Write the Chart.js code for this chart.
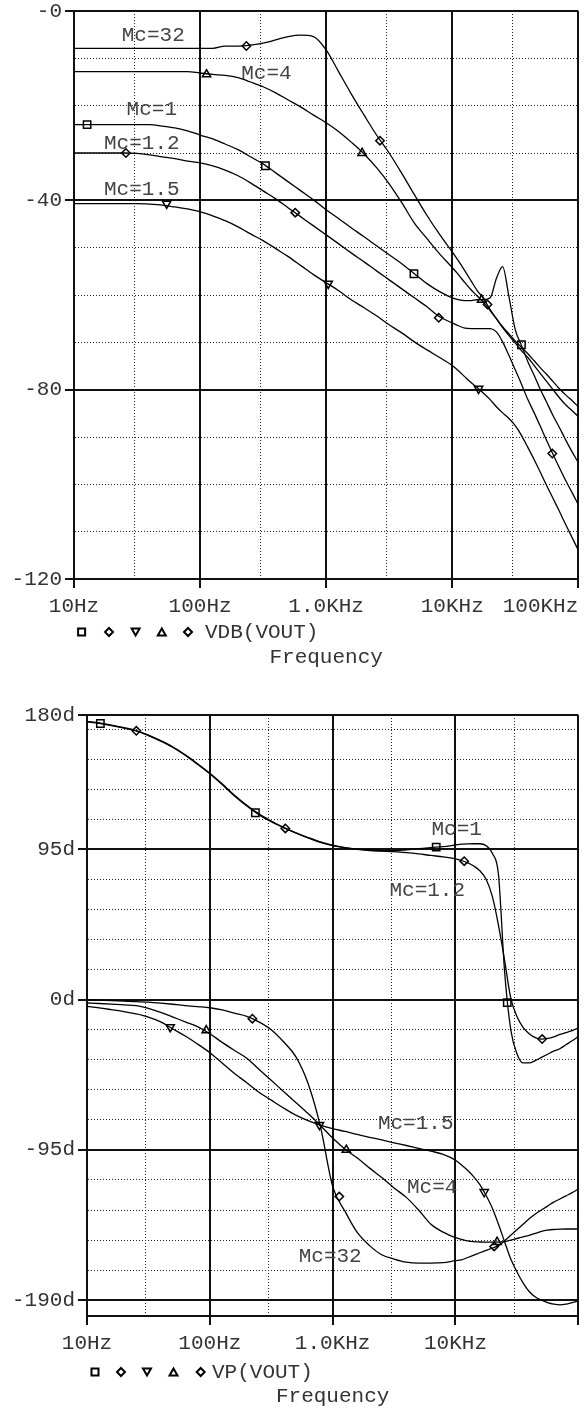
<!DOCTYPE html>
<html><head><meta charset="utf-8">
<script src="https://cdn.jsdelivr.net/npm/chart.js@4.4.0/dist/chart.umd.min.js"></script>
<style>
html,body{margin:0;padding:0;background:#fff;}
#wrap{position:relative;width:585px;height:1409px;overflow:hidden;}
canvas{display:block;}
</style></head><body>
<div id="wrap">
<div style="position:absolute;left:0;top:0;width:585px;height:680px"><canvas id="c1" width="585" height="680"></canvas></div>
<div style="position:absolute;left:0;top:680px;width:585px;height:729px"><canvas id="c2" width="585" height="729"></canvas></div>
</div>
<script>
// ---------------- DATA ----------------
const freq = [10,12.6,15.8,20,25.1,31.6,39.8,50.1,63.1,79.4,100,126,158,200,251,316,398,501,631,794,1000,1260,1580,2000,2510,3160,3980,5010,6310,7940,10000,11200,12600,14100,15800,17800,20000,22400,25100,28200,31600,35500,39800,44700,50100,56200,63100,70800,79400,89100,100000];

const seriesNames = ['Mc=1','Mc=1.2','Mc=1.5','Mc=4','Mc=32'];

// VDB(VOUT) in dB
const magMc1 = [-24,-24,-24,-24,-24,-24,-24,-24.3,-24.7,-25.3,-26.2,-27,-28.1,-29.3,-30.8,-32.3,-34.2,-36.1,-38,-39.9,-42,-43.9,-45.8,-47.7,-49.6,-51.5,-53.4,-55.5,-57.6,-59.3,-60.6,-61,-61.2,-61.2,-61,-61,-60.6,-56.5,-54,-60.4,-67.3,-70.7,-74.1,-77,-80,-82.7,-85.5,-88,-90.6,-93.1,-95.4];
const magMc12 = [-30,-30,-30,-30,-30,-30.1,-30.4,-30.8,-31.2,-31.7,-32.1,-32.7,-33.6,-34.8,-36.3,-38,-39.7,-41.6,-43.5,-45.4,-47.3,-49.2,-51.1,-53,-54.9,-56.8,-58.7,-60.6,-62.5,-64.6,-65.9,-66.5,-67,-67.1,-67.1,-67.1,-67.1,-67.8,-69.9,-72.8,-75.8,-78.9,-82.1,-84.9,-87.8,-90.8,-93.7,-96.5,-99.2,-101.7,-104.3];
const magMc15 = [-40.7,-40.7,-40.7,-40.7,-40.7,-40.7,-40.8,-41,-41.4,-41.8,-42.4,-43.3,-44.3,-45.6,-47.1,-48.5,-50.2,-51.9,-53.8,-55.7,-57.4,-59.1,-61,-62.7,-64.4,-66.3,-68,-69.9,-71.6,-73.2,-74.9,-76,-77.3,-78.5,-79.6,-80.8,-82.1,-83.6,-84.9,-86.1,-87.6,-89.7,-92.2,-94.8,-97.5,-100.3,-103,-105.7,-108.5,-111.2,-113.9];
const magMc4 = [-12.8,-12.8,-12.8,-12.8,-12.8,-12.8,-12.8,-12.8,-12.8,-12.8,-13.1,-13.4,-13.6,-14.1,-15,-16,-17.3,-18.8,-20.3,-22,-23.6,-25.5,-27.7,-30.2,-33.1,-36.5,-40.5,-44.8,-48.1,-51.3,-54.2,-55.7,-57.4,-58.9,-60.2,-61.6,-63.3,-65,-66.7,-68.2,-69.7,-71.1,-72.4,-73.9,-75.4,-76.8,-78.3,-79.8,-81.1,-82.3,-83.6];
const magMc32 = [-7.9,-7.9,-7.9,-7.9,-7.9,-7.9,-7.9,-7.9,-7.9,-7.9,-7.9,-7.9,-7.4,-7.4,-7.2,-6.8,-6.1,-5.4,-5.1,-5.4,-8.2,-12.9,-17.5,-22,-26.2,-30,-34.3,-38.8,-43.2,-47.2,-50.9,-52.8,-54.9,-57,-59.1,-60.8,-63.1,-65,-66.9,-68.6,-70.1,-71.8,-73.2,-74.9,-76.6,-78.3,-80,-81.7,-83.2,-84.4,-85.7];

// VP(VOUT) in degrees
const phMc1 = [175.6,174.7,173.3,171.7,170,167,163.5,159.5,154.5,148.8,142.8,136,129,122.5,117,112.5,108.8,105.5,102.5,99.8,97.7,96.2,95.2,94.6,94.2,94.2,94.8,95.5,96.2,96.8,97.8,98.3,98.5,98.6,98.6,97.3,92.5,79,18,-19,-34,-40,-40,-38.5,-36.5,-34.5,-32.5,-31,-28.5,-26,-23.3];
const phMc12 = [176,175,173.6,172,170.2,167.3,163.8,159.8,154.8,149.2,143.2,136.5,129.5,123,117.5,113,109,105.5,102.3,99.5,97.4,96,95,94.3,93.9,93.6,93,92.2,91.2,90.3,89,88,86.5,84.5,81.5,76,65,47,25,1,-10.5,-17.5,-21.5,-24,-25,-24.5,-23.5,-22,-20.8,-19.5,-18];
const phMc15 = [-4.2,-5.2,-6.3,-7.5,-9,-11,-14,-18.5,-23,-28,-33.5,-40,-46.5,-52.5,-58.5,-63.5,-68.5,-73,-76.5,-79.3,-81.5,-83.3,-85.2,-87,-88.7,-90.5,-92.2,-94,-95.8,-97.8,-101.5,-104.5,-108,-112,-117,-124,-132,-142,-153,-164,-172,-179,-184.5,-188,-190,-191.5,-192.5,-193,-192.5,-191.5,-190.5];
const phMc4 = [-2.1,-2.4,-2.8,-3.3,-3.8,-5.5,-8,-11,-14,-17,-21.5,-27,-32,-37,-44,-51,-58,-65,-72,-79.5,-87.5,-94.5,-100,-106.5,-112.5,-119,-125,-133,-142,-147,-150.5,-151.5,-152.5,-153,-153.2,-153.3,-153.3,-153.3,-153,-152,-151,-150,-149,-147.8,-146.5,-145.7,-145.3,-145.1,-145,-145,-145];
const phMc32 = [0,-0.3,-0.6,-0.9,-1.2,-1.6,-2.2,-2.9,-3.7,-4.4,-5.1,-6.5,-8.5,-10.5,-14,-19,-26.6,-36,-53,-80,-118,-133.8,-147,-155.5,-161.3,-164,-166,-166.6,-166.6,-166.3,-165,-164.5,-163,-161.5,-160,-158.5,-157,-155.5,-152.5,-149,-145.5,-142,-138.5,-135.5,-133,-130.5,-128,-126,-124,-122,-119.7];

// trace markers (frequency, value)
const magMkMc1F = [12.7,330,4970,35400],   magMkMc1V = [-24,-32.7,-55.5,-70.5];
const magMkMc12F = [25.8,569,7820,62200],  magMkMc12V = [-30,-42.6,-64.8,-93.5];
const magMkMc15F = [54.3,1038,16180],      magMkMc15V = [-40.7,-57.6,-79.8];
const magMkMc4F = [112.5,1928,17100],      magMkMc4V = [-13.4,-30,-61];
const magMkMc32F = [233,2673,19050],       magMkMc32V = [-7.4,-27.4,-62];

const phMkMc1F = [12.85,235,6970,26400],   phMkMc1V = [174.6,118.2,96.5,-1.9];
const phMkMc12F = [25.2,412,11780,50800],  phMkMc12V = [170,108.3,87.6,-24.9];
const phMkMc15F = [47.6,780,17140],        phMkMc15V = [-17.3,-79.2,-121.6];
const phMkMc4F = [93.5,1292,21800],        phMkMc4V = [-19.4,-95,-153.2];
const phMkMc32F = [222,1132,20650],        phMkMc32V = [-12,-124.5,-156];

// ticks
const xMajor = [10,100,1000,10000,100000];
const xMinor = [30,300,3000,30000];
const xLabelsMag = ['10Hz','100Hz','1.0KHz','10KHz','100KHz'];
const xLabelsPh = ['10Hz','100Hz','1.0KHz','10KHz',''];

const magTicks = [-120,-110,-100,-90,-80,-70,-60,-50,-40,-30,-20,-10,0];
const magMajor = [-120,-80,-40,0];
const magLabels = ['-120','-80','-40','-0'];

const phTicks = [-200,-190,-171,-152,-133,-114,-95,-76,-57,-38,-19,0,19,38,57,76,95,114,133,152,171,180];
const phMajor = [-190,-95,0,95,180];
const phLabels = ['-190d','-95d','0d','95d','180d'];

// in-plot trace labels (frequency, value)
const magTagText = ['Mc=32','Mc=4','Mc=1','Mc=1.2','Mc=1.5'];
const magTagF = [42.5,336,41.4,34.5,34.5];
const magTagV = [-5.1,-13.1,-20.9,-27.9,-37.6];
const phTagText = ['Mc=1','Mc=1.2','Mc=1.5','Mc=4','Mc=32'];
const phTagF = [10230,5890,4745,6460,955];
const phTagV = [107.7,69.2,-78.5,-119,-162.6];

// ---------------- RENDER ----------------
const FONT = "'Liberation Mono', 'DejaVu Sans Mono', monospace";
Chart.defaults.font.family = FONT;
Chart.defaults.font.size = 21;
Chart.defaults.color = '#333';
const SOLID = '#111', DOT = '#222';
const markStyles = [
  {ps:'rect', r:5.2, rot:0, lg:'sq'},
  {ps:'rectRot', r:4.2, rot:0, lg:'dia'},
  {ps:'triangle', r:4.8, rot:180, lg:'tdn'},
  {ps:'triangle', r:4.8, rot:0, lg:'tup'},
  {ps:'rectRot', r:4.2, rot:0, lg:'dia'}
];

function near(v, list){ return list.some(a => Math.abs(a - v) <= 1e-6 * Math.max(1, Math.abs(a))); }
function pts(fs, vs){ return fs.map((f,i)=>({x:f, y:vs[i]})); }

function drawMark(ctx, kind, x, y){
  ctx.beginPath();
  if (kind === 'sq') { ctx.rect(x-3.5, y-3.5, 7, 7); }
  else if (kind === 'dia') { ctx.moveTo(x, y-4); ctx.lineTo(x+4, y); ctx.lineTo(x, y+4); ctx.lineTo(x-4, y); ctx.closePath(); }
  else if (kind === 'tdn') { ctx.moveTo(x-4, y-3.5); ctx.lineTo(x+4, y-3.5); ctx.lineTo(x, y+3.5); ctx.closePath(); }
  else { ctx.moveTo(x-4, y+3.5); ctx.lineTo(x+4, y+3.5); ctx.lineTo(x, y-3.5); ctx.closePath(); }
  ctx.stroke();
}

const annot = {
  id: 'annot',
  afterDatasetsDraw(chart, args, o) {
    const ctx = chart.ctx, xs = chart.scales.x, ys = chart.scales.y;
    ctx.save();
    ctx.font = '21px ' + FONT;
    ctx.fillStyle = '#444'; ctx.textAlign = 'center'; ctx.textBaseline = 'middle';
    o.text.forEach((t,i) => ctx.fillText(t, xs.getPixelForValue(o.f[i]), ys.getPixelForValue(o.v[i])));
    ctx.restore();
  },
  afterDraw(chart, args, o) {
    const ctx = chart.ctx;
    ctx.save();
    ctx.strokeStyle = '#000'; ctx.lineWidth = 2;
    o.legX.forEach((x,i) => drawMark(ctx, markStyles[i].lg, x, o.legY));
    ctx.font = '21px ' + FONT;
    ctx.fillStyle = '#333'; ctx.textAlign = 'left'; ctx.textBaseline = 'middle';
    ctx.fillText(o.legText, o.legTextX, o.legY);
    ctx.restore();
  }
};

function buildChart(id, cfg){
  const datasets = [];
  cfg.lines.forEach((vals, k) => {
    datasets.push({
      label: seriesNames[k], data: pts(freq, vals), borderColor: '#000', borderWidth: 1.3,
      pointRadius: 0, cubicInterpolationMode: 'monotone', fill: false
    });
  });
  cfg.marks.forEach((m, k) => {
    const s = markStyles[k];
    datasets.push({
      label: seriesNames[k] + ' marker', data: pts(m[0], m[1]), showLine: false,
      pointStyle: s.ps, pointRadius: s.r, pointRotation: s.rot,
      pointBorderColor: '#000', pointBackgroundColor: 'rgba(255,255,255,0)', pointBorderWidth: 1.5
    });
  });
  const xIsMinor = c => c.tick && near(c.tick.value, xMinor);
  const yIsMinor = c => c.tick && !near(c.tick.value, cfg.yMajor) && c.tick.value !== cfg.yMin && c.tick.value !== cfg.yMax;
  return new Chart(document.getElementById(id), {
    type: 'line',
    data: { datasets },
    plugins: [annot],
    options: {
      responsive: false, animation: false, events: [],
      layout: { padding: cfg.pad },
      plugins: {
        legend: { display: false }, tooltip: { enabled: false },
        annot: cfg.annot
      },
      scales: {
        x: {
          type: 'logarithmic', min: 10, max: 100000,
          afterBuildTicks: s => { s.ticks = xMajor.concat(xMinor).sort((a,b)=>a-b).map(v => ({value: v})); },
          afterFit: s => { s.height = cfg.xHeight; s.paddingLeft = 0; s.paddingRight = 0; s.paddingTop = 0; s.paddingBottom = 0; },
          ticks: {
            autoSkip: false, maxRotation: 0, minRotation: 0, padding: 6, color: '#333',
            callback: v => {
              const i = xMajor.indexOf(v);
              if (i < 0) return '';
              const t = cfg.xLabels[i];
              return (i === xMajor.length - 1 && t) ? t + '      ' : t;
            }
          },
          grid: {
            color: c => xIsMinor(c) ? DOT : SOLID,
            lineWidth: c => xIsMinor(c) ? 1 : 2,
            tickLength: 9,
            tickColor: c => xIsMinor(c) ? 'rgba(0,0,0,0)' : SOLID,
            tickWidth: 2
          },
          border: { display: true, color: SOLID, width: 2, dash: c => xIsMinor(c) ? [1,2] : [] },
          title: { display: true, text: 'Frequency', color: '#333', padding: {top: 0, bottom: cfg.titlePad} }
        },
        y: {
          type: 'linear', min: cfg.yMin, max: cfg.yMax,
          afterBuildTicks: s => { s.ticks = cfg.yTicks.map(v => ({value: v})); },
          afterFit: s => { s.width = cfg.yWidth; s.paddingTop = 0; s.paddingBottom = 0; s.paddingLeft = 0; s.paddingRight = 0; },
          ticks: {
            autoSkip: false, padding: 3, color: '#333',
            callback: v => { const i = cfg.yMajor.indexOf(v); return i < 0 ? '' : cfg.yLabels[i]; }
          },
          grid: {
            color: c => yIsMinor(c) ? DOT : SOLID,
            lineWidth: c => yIsMinor(c) ? 1 : 2,
            tickLength: 9,
            tickColor: c => (c.tick && near(c.tick.value, cfg.yMajor)) ? SOLID : 'rgba(0,0,0,0)',
            tickWidth: 2
          },
          border: { display: true, color: SOLID, width: 2, dash: c => yIsMinor(c) ? [1,2] : [] }
        }
      }
    }
  });
}

buildChart('c1', {
  lines: [magMc1, magMc12, magMc15, magMc4, magMc32],
  marks: [[magMkMc1F,magMkMc1V],[magMkMc12F,magMkMc12V],[magMkMc15F,magMkMc15V],[magMkMc4F,magMkMc4V],[magMkMc32F,magMkMc32V]],
  pad: {left: 0, right: 5, top: 11, bottom: 0},
  xHeight: 101, yWidth: 74, titlePad: 10,
  xLabels: xLabelsMag,
  yMin: -120, yMax: 0, yTicks: magTicks, yMajor: magMajor, yLabels: magLabels,
  annot: { text: magTagText, f: magTagF, v: magTagV,
           legX: [81.6,109,135.6,161.8,188], legY: 632, legText: 'VDB(VOUT)', legTextX: 205 }
});

buildChart('c2', {
  lines: [phMc1, phMc12, phMc15, phMc4, phMc32],
  marks: [[phMkMc1F,phMkMc1V],[phMkMc12F,phMkMc12V],[phMkMc15F,phMkMc15V],[phMkMc4F,phMkMc4V],[phMkMc32F,phMkMc32V]],
  pad: {left: 0, right: 6, top: 35, bottom: 0},
  xHeight: 93, yWidth: 87, titlePad: 0,
  xLabels: xLabelsPh,
  yMin: -200, yMax: 180, yTicks: phTicks, yMajor: phMajor, yLabels: phLabels,
  annot: { text: phTagText, f: phTagF, v: phTagV,
           legX: [95,121,147,173.5,200.7], legY: 692, legText: 'VP(VOUT)', legTextX: 212 }
});
</script>
</body></html>
